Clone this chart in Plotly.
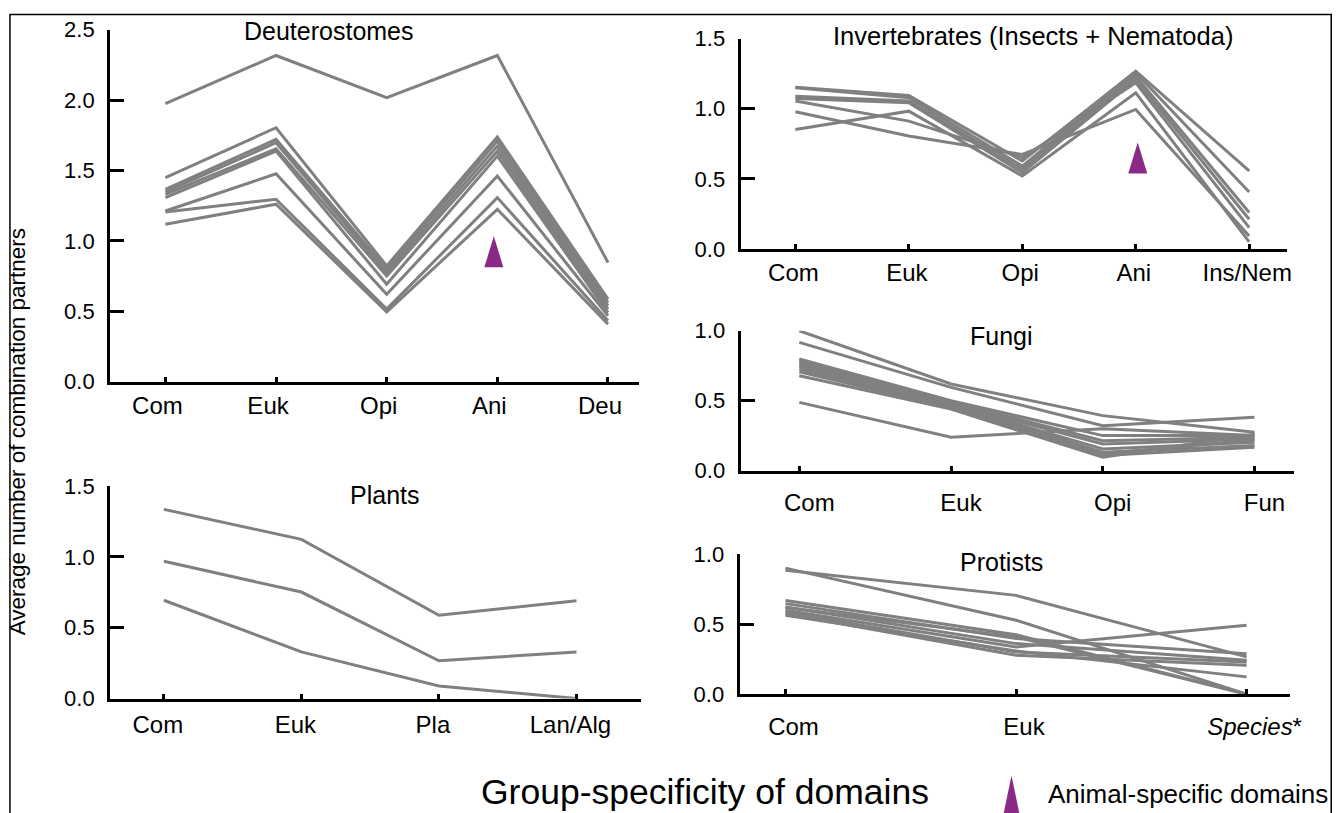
import plotly.graph_objects as go

W, H = 1340, 813

# ---------------- data ----------------
deu_cats = ["Com", "Euk", "Opi", "Ani", "Deu"]
deu_lines = [
    [1.975, 2.316, 2.016, 2.316, 0.846],
    [1.449, 1.803, 0.822, 1.737, 0.586],
    [1.366, 1.720, 0.800, 1.708, 0.562],
    [1.347, 1.697, 0.775, 1.673, 0.539],
    [1.330, 1.654, 0.751, 1.637, 0.515],
    [1.307, 1.637, 0.692, 1.602, 0.491],
    [1.212, 1.476, 0.621, 1.460, 0.468],
    [1.205, 1.295, 0.515, 1.307, 0.432],
    [1.118, 1.260, 0.496, 1.224, 0.409],
]

inv_cats = ["Com", "Euk", "Opi", "Ani", "Ins/Nem"]
inv_lines = [
    [1.154, 1.095, 0.628, 1.268, 0.557],
    [1.149, 1.078, 0.592, 1.256, 0.408],
    [1.090, 1.055, 0.569, 1.232, 0.261],
    [1.073, 1.043, 0.545, 1.209, 0.213],
    [1.055, 0.912, 0.652, 1.185, 0.154],
    [0.979, 0.806, 0.675, 0.995, 0.095],
    [0.853, 0.983, 0.521, 1.114, 0.052],
]

fun_cats = ["Com", "Euk", "Opi", "Fun"]
fun_lines = [
    [1.000, 0.619, 0.393, 0.274],
    [0.917, 0.595, 0.321, 0.381],
    [0.488, 0.238, 0.300, 0.250],
    [0.798, 0.500, 0.250, 0.250],
    [0.779, 0.490, 0.214, 0.238],
    [0.762, 0.480, 0.190, 0.226],
    [0.745, 0.470, 0.155, 0.202],
    [0.726, 0.460, 0.131, 0.179],
    [0.707, 0.450, 0.107, 0.167],
    [0.679, 0.440, 0.095, 0.260],
    [0.790, 0.495, 0.120, 0.220],
]

pro_cats = ["Com", "Euk", "<i>Species</i>*"]
pro_lines = [
    [0.902, 0.529, 0.000],
    [0.886, 0.707, 0.267],
    [0.671, 0.426, 0.000],
    [0.648, 0.398, 0.290],
    [0.624, 0.362, 0.243],
    [0.600, 0.338, 0.493],
    [0.588, 0.302, 0.231],
    [0.576, 0.279, 0.207],
    [0.564, 0.310, 0.124],
    [0.620, 0.410, 0.000],
]

pla_cats = ["Com", "Euk", "Pla", "Lan/Alg"]
pla_lines = [
    [1.336, 1.124, 0.588, 0.691],
    [0.969, 0.752, 0.266, 0.329],
    [0.694, 0.329, 0.089, 0.000],
]

panel_titles = ["Deuterostomes", "Invertebrates (Insects + Nematoda)", "Fungi",
                "Protists", "Plants"]
y_title = "Average number of combination partners"
x_title = "Group-specificity of domains"
legend_text = "Animal-specific domains"

# ---------------- styling ----------------
FONT = "Liberation Sans, Arial, Helvetica, sans-serif"
LINE_COLOR = "#808080"
PURPLE = "#8B2A86"


def px_x(p):
    return ((p - 0.5) / 0.9957) / W


def px_y(p):
    return 1 - ((p - 12.4) / 0.9708) / H


fig = go.Figure()

# (cats, lines, axis suffix, xdomain px, ydomain px, xrange, ymax, label shift, label standoff)
panels = [
    (deu_cats, deu_lines, "", (111, 642), (382.7, 30), (-0.5, 4.28), 2.5, -8, 0),
    (inv_cats, inv_lines, "2", (744, 1293), (250, 39), (-0.483, 4.337), 1.5, -2, 0),
    (fun_cats, fun_lines, "3", (744, 1300), (471.7, 331.7), (-0.387, 3.263), 1.0, 10, 9),
    (pro_cats, pro_lines, "4", (743, 1296), (695.7, 555.7), (-0.199, 2.19), 1.0, 8, 9),
    (pla_cats, pla_lines, "5", (111, 643.6), (700, 487.3), (-0.391, 3.466), 1.5, -6, 3),
]

for cats, lines, sfx, xd, yd, xr, ymax, lshift, lstand in panels:
    for ln in lines:
        fig.add_trace(go.Scatter(
            x=cats, y=ln, mode="lines",
            line=dict(color=LINE_COLOR, width=3),
            xaxis="x" + sfx, yaxis="y" + sfx, showlegend=False, hoverinfo="skip"))
    n = int(round(ymax / 0.5))
    tv = [i * 0.5 for i in range(n + 1)]
    fig.update_layout(**{
        "xaxis" + sfx: dict(
            domain=[px_x(xd[0]), px_x(xd[1])], anchor="y" + sfx,
            type="category", range=list(xr),
            showline=True, linecolor="black", linewidth=3,
            ticks="inside", ticklen=5, tickwidth=3, tickcolor="black",
            showgrid=False, zeroline=False,
            tickfont=dict(family=FONT, size=24, color="black"),
            ticklabelshift=lshift, ticklabelstandoff=lstand,
        ),
        "yaxis" + sfx: dict(
            domain=[px_y(yd[0]), px_y(yd[1])], anchor="x" + sfx,
            range=[0, ymax], tickvals=tv, tickformat=".1f",
            showline=True, linecolor="black", linewidth=3,
            ticks="inside", ticklen=14, tickwidth=3, tickcolor="black",
            showgrid=False, zeroline=False,
            tickfont=dict(family=FONT, size=22, color="black"),
            ticklabelstandoff=8,
        ),
    })

# panel titles
title_pos = [(331, 31), (1038, 36), (1006, 337), (1006, 563), (387, 496)]
title_size = [25, 25.5, 25, 25, 25]
annotations = []
for t, (x, y), fs in zip(panel_titles, title_pos, title_size):
    annotations.append(dict(text=t, x=px_x(x), y=px_y(y), xref="paper", yref="paper",
                            xanchor="center", yanchor="middle", showarrow=False,
                            font=dict(family=FONT, size=fs, color="black")))

annotations.append(dict(text=y_title, x=px_x(19), y=px_y(433), xref="paper", yref="paper",
                        xanchor="center", yanchor="middle", textangle=-90, showarrow=False,
                        font=dict(family=FONT, size=22.5, color="black")))
annotations.append(dict(text=x_title, x=px_x(708), y=px_y(794), xref="paper", yref="paper",
                        xanchor="center", yanchor="middle", showarrow=False,
                        font=dict(family=FONT, size=35.5, color="black")))
annotations.append(dict(text=legend_text, x=px_x(1051), y=px_y(796), xref="paper", yref="paper",
                        xanchor="left", yanchor="middle", showarrow=False,
                        font=dict(family=FONT, size=26, color="black")))

shapes = [
    # outer frame
    dict(type="rect", xref="paper", yref="paper",
         x0=px_x(10.5), x1=px_x(1337), y0=-0.05, y1=px_y(15),
         line=dict(color="black", width=1.5), fillcolor="rgba(0,0,0,0)"),
    # animal-specific markers at "Ani"
    dict(type="path", xref="x", yref="y", xsizemode="pixel", ysizemode="pixel",
         xanchor="Ani", yanchor=0.813, path="M -13,0 L 6,0 L -3.5,31 Z",
         fillcolor=PURPLE, line=dict(width=0)),
    dict(type="path", xref="x2", yref="y2", xsizemode="pixel", ysizemode="pixel",
         xanchor="Ani", yanchor=0.54, path="M -7.5,0 L 11.5,0 L 2,31 Z",
         fillcolor=PURPLE, line=dict(width=0)),
    # legend triangle
    dict(type="path", xref="paper", yref="paper",
         path="M {a},{b} L {c},{b} L {d},{e} Z".format(
             a=px_x(1005), c=px_x(1027), b=px_y(830), d=px_x(1016), e=px_y(777)),
         fillcolor=PURPLE, line=dict(width=0)),
]

fig.update_layout(
    width=W, height=H, autosize=False,
    margin=dict(l=0, r=0, t=0, b=0),
    paper_bgcolor="white", plot_bgcolor="white",
    annotations=annotations, shapes=shapes,
    font=dict(family=FONT, color="black"),
)

fig.write_html("out.html", config={"displayModeBar": False},
               post_script="document.body.style.margin='0';document.body.style.overflow='hidden';")
